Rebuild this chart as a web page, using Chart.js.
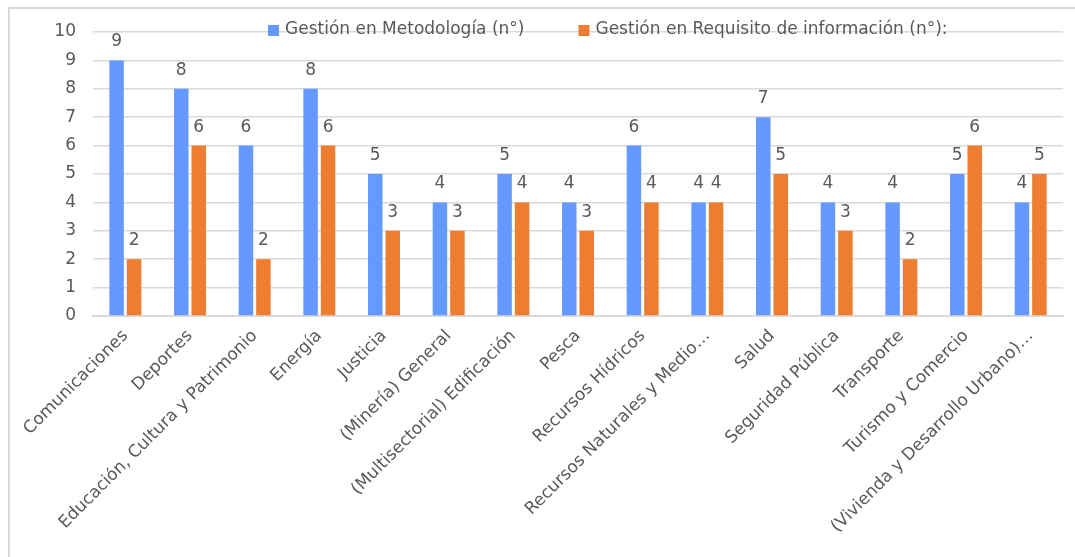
<!DOCTYPE html>
<html>
<head>
<meta charset="utf-8">
<script src="https://cdn.jsdelivr.net/npm/chart.js@4/dist/chart.umd.min.js"></script>
<style>
  html, body { margin: 0; padding: 0; background: #fff; overflow: hidden; }
  #frame { position: absolute; left: 8px; top: 7px; width: 1080px; height: 560px;
           border-left: 2px solid #d9d9d9; border-top: 2px solid #d9d9d9; }
  #wrap { position: absolute; left: 0; top: 0; width: 1075px; height: 557px; }
</style>
</head>
<body>
<div id="frame"></div>
<div id="wrap"><canvas id="chart"></canvas></div>
<script>
//-----------------------------------------------------------------------------
// Data
//-----------------------------------------------------------------------------

var categories = [
  'Comunicaciones', 'Deportes', 'Educación, Cultura y Patrimonio', 'Energía',
  'Justicia', '(Minería) General', '(Multisectorial) Edificación', 'Pesca',
  'Recursos Hídricos', 'Recursos Naturales y Medio…', 'Salud', 'Seguridad Pública',
  'Transporte', 'Turismo y Comercio', '(Vivienda y Desarrollo Urbano)…'
];
var metodologia = [9, 8, 6, 8, 5, 4, 5, 4, 6, 4, 7, 4, 4, 5, 4];
var requisito   = [2, 6, 2, 6, 3, 3, 4, 3, 4, 4, 5, 3, 2, 6, 5];
var seriesNames = ['Gestión en Metodología (n°)', 'Gestión en Requisito de información (n°):'];
var yTicks = [0, 1, 2, 3, 4, 5, 6, 7, 8, 9, 10];

var BLUE = '#6699ff';
var ORANGE = '#ed7d31';
var TEXT = '#595959';
var FONT = '"DejaVu Sans", sans-serif';
var SIZE = 17;

//-----------------------------------------------------------------------------
// Plugins: value labels above bars, legend sitting on the top grid line
//-----------------------------------------------------------------------------

var valueLabels = {
  id: 'valueLabels',
  afterDatasetsDraw: function(chart) {
    var ctx = chart.ctx;
    ctx.save();
    ctx.font = SIZE + 'px ' + FONT;
    ctx.fillStyle = TEXT;
    ctx.textAlign = 'center';
    ctx.textBaseline = 'alphabetic';
    chart.data.datasets.forEach(function(ds, i) {
      chart.getDatasetMeta(i).data.forEach(function(bar, j) {
        ctx.fillText(ds.data[j], bar.x, bar.y - 14);
      });
    });
    ctx.restore();
  }
};

var topLegend = {
  id: 'topLegend',
  afterDraw: function(chart) {
    var ctx = chart.ctx;
    var x = 268, y = chart.chartArea.top - 2;
    ctx.save();
    ctx.font = SIZE + 'px ' + FONT;
    ctx.textBaseline = 'middle';
    ctx.textAlign = 'left';
    chart.data.datasets.forEach(function(ds) {
      ctx.fillStyle = ds.backgroundColor;
      ctx.fillRect(x, y - 5, 11, 11);
      ctx.fillStyle = TEXT;
      ctx.fillText(ds.label, x + 17, y);
      x += 17 + ctx.measureText(ds.label).width + 54;
    });
    ctx.restore();
  }
};

//-----------------------------------------------------------------------------
// Chart
//-----------------------------------------------------------------------------

new Chart(document.getElementById('chart'), {
  type: 'bar',
  data: {
    labels: categories,
    datasets: [
      { label: seriesNames[0], data: metodologia, backgroundColor: BLUE, borderWidth: 0 },
      { label: seriesNames[1], data: requisito, backgroundColor: ORANGE, borderWidth: 0 }
    ]
  },
  options: {
    responsive: true,
    maintainAspectRatio: false,
    animation: false,
    layout: { padding: { top: 32, right: 12, left: 0, bottom: 0 } },
    datasets: { bar: { categoryPercentage: 0.54, barPercentage: 0.83 } },
    plugins: {
      legend: { display: false },
      tooltip: { enabled: false }
    },
    scales: {
      x: {
        grid: { display: false, drawTicks: false },
        border: { display: true, color: '#d9d9d9', width: 2 },
        ticks: {
          color: TEXT, font: { family: FONT, size: SIZE },
          minRotation: 45, maxRotation: 45, autoSkip: false, padding: 10
        },
        afterFit: function(scale) { scale.height = 241; }
      },
      y: {
        min: 0, max: 10,
        grid: { color: '#d9d9d9', lineWidth: 1.5, drawTicks: false },
        border: { display: false },
        ticks: {
          color: TEXT, font: { family: FONT, size: SIZE }, padding: 17,
          stepSize: 1,
          callback: function(v) { return yTicks.indexOf(v) >= 0 ? v : ''; }
        },
        afterFit: function(scale) { scale.width = 93; }
      }
    }
  },
  plugins: [valueLabels, topLegend]
});
</script>
</body>
</html>
